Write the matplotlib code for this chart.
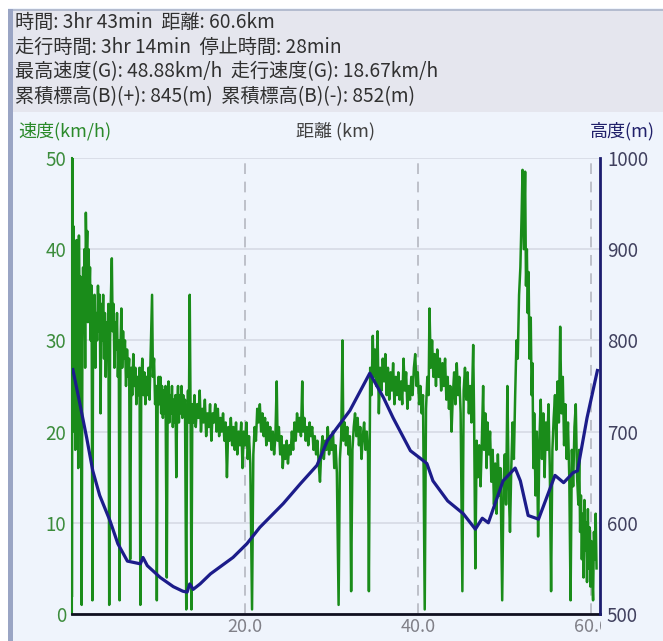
import matplotlib.pyplot as plt
from matplotlib.patches import Rectangle
from matplotlib.transforms import Bbox, TransformedBbox

# speed track (km, km/h)
speed_km = [
    0.00, 0.04, 0.10, 0.18, 0.26, 0.32, 0.38, 0.44, 0.52, 0.58,
    0.66, 0.72, 0.80, 0.88, 0.96, 1.04, 1.12, 1.20, 1.28, 1.36,
    1.44, 1.52, 1.60, 1.68, 1.76, 1.84, 1.92, 2.00, 2.08, 2.16,
    2.26, 2.36, 2.44, 2.52, 2.60, 2.70, 2.80, 2.90, 3.00, 3.10,
    3.20, 3.30, 3.40, 3.50, 3.60, 3.70, 3.80, 3.90, 4.00, 4.10,
    4.20, 4.30, 4.40, 4.50, 4.60, 4.70, 4.80, 4.90, 5.00, 5.10,
    5.20, 5.30, 5.40, 5.50, 5.60, 5.70, 5.80, 5.90, 6.00, 6.12,
    6.24, 6.36, 6.48, 6.60, 6.72, 6.84, 6.96, 7.08, 7.20, 7.32,
    7.44, 7.56, 7.68, 7.80, 7.90, 8.00, 8.12, 8.24, 8.36, 8.48,
    8.60, 8.72, 8.84, 8.96, 9.10, 9.25, 9.35, 9.48, 9.60, 9.72,
    9.80, 9.90, 10.0, 10.1, 10.2, 10.3, 10.4, 10.5, 10.6, 10.7,
    10.8, 10.95, 11.05, 11.15, 11.25, 11.35, 11.45, 11.55, 11.65, 11.75,
    11.85, 11.95, 12.05, 12.15, 12.25, 12.35, 12.45, 12.55, 12.65, 12.75,
    12.85, 12.95, 13.05, 13.2, 13.3, 13.4, 13.5, 13.6, 13.7, 13.8,
    13.9, 14.0, 14.15, 14.3, 14.45, 14.6, 14.75, 14.9, 15.05, 15.2,
    15.35, 15.5, 15.65, 15.8, 15.95, 16.1, 16.25, 16.4, 16.55, 16.7,
    16.85, 17.0, 17.15, 17.3, 17.45, 17.6, 17.75, 17.9, 18.05, 18.2,
    18.35, 18.5, 18.65, 18.8, 18.95, 19.1, 19.25, 19.4, 19.55, 19.7,
    19.85, 20.0, 20.15, 20.3, 20.45, 20.6, 20.8, 20.95, 21.1, 21.25,
    21.4, 21.55, 21.7, 21.85, 22.0, 22.15, 22.3, 22.45, 22.6, 22.75,
    22.9, 23.05, 23.2, 23.35, 23.5, 23.65, 23.75, 23.9, 24.05, 24.2,
    24.35, 24.5, 24.65, 24.8, 24.95, 25.1, 25.25, 25.4, 25.55, 25.7,
    25.85, 26.0, 26.15, 26.3, 26.45, 26.6, 26.7, 26.85, 27.0, 27.15,
    27.3, 27.45, 27.6, 27.75, 27.9, 28.05, 28.2, 28.35, 28.5, 28.65,
    28.8, 28.95, 29.1, 29.25, 29.4, 29.55, 29.7, 29.85, 30.0, 30.15,
    30.3, 30.45, 30.6, 30.8, 30.95, 31.1, 31.25, 31.35, 31.5, 31.65,
    31.8, 31.95, 32.1, 32.25, 32.4, 32.55, 32.7, 32.85, 33.0, 33.15,
    33.3, 33.45, 33.6, 33.75, 33.9, 34.05, 34.2, 34.3, 34.45, 34.6,
    34.75, 34.85, 35.0, 35.15, 35.3, 35.45, 35.6, 35.75, 35.9, 36.05,
    36.2, 36.35, 36.5, 36.65, 36.8, 36.95, 37.1, 37.25, 37.4, 37.55,
    37.7, 37.85, 38.0, 38.15, 38.3, 38.45, 38.6, 38.75, 38.9, 39.05,
    39.2, 39.35, 39.5, 39.65, 39.8, 39.95, 40.1, 40.25, 40.4, 40.55,
    40.75, 40.9, 41.05, 41.2, 41.3, 41.45, 41.6, 41.75, 41.9, 42.05,
    42.2, 42.35, 42.5, 42.65, 42.8, 42.95, 43.1, 43.25, 43.4, 43.55,
    43.7, 43.85, 44.0, 44.15, 44.3, 44.45, 44.6, 44.75, 44.9, 45.1,
    45.25, 45.4, 45.55, 45.7, 45.85, 46.0, 46.15, 46.35, 46.45, 46.6,
    46.75, 46.9, 47.05, 47.2, 47.35, 47.5, 47.6, 47.75, 47.9, 48.0,
    48.15, 48.3, 48.45, 48.6, 48.75, 48.9, 49.05, 49.2, 49.35, 49.5,
    49.7, 49.85, 50.0, 50.15, 50.3, 50.45, 50.6, 50.75, 50.9, 51.05,
    51.2, 51.35, 51.5, 51.65, 51.8, 51.95, 52.05, 52.2, 52.35, 52.45,
    52.55, 52.65, 52.75, 52.85, 53.0, 53.1, 53.2, 53.3, 53.4, 53.55,
    53.7, 53.85, 54.0, 54.15, 54.3, 54.45, 54.6, 54.75, 54.9, 55.05,
    55.2, 55.35, 55.5, 55.65, 55.8, 55.95, 56.1, 56.25, 56.4, 56.55,
    56.7, 56.85, 57.0, 57.15, 57.3, 57.45, 57.6, 57.75, 57.9, 58.05,
    58.2, 58.35, 58.5, 58.6, 58.7, 58.8, 58.9, 59.0, 59.1, 59.2,
    59.3, 59.4, 59.5, 59.6, 59.7, 59.8, 59.9, 60.0, 60.1, 60.2,
    60.3, 60.4, 60.5, 60.6,
]
speed_kmh = [
    2, 50, 20, 42.5, 30, 38, 18, 36, 41, 27,
    34, 16, 41.5, 31, 37, 28, 1, 30, 38, 33,
    40, 27, 44, 39, 42, 32, 40, 35, 38, 30,
    36, 1.5, 34, 29, 35, 27, 33, 30, 36, 31,
    35, 22, 34, 30, 35, 28, 33, 26, 32, 29,
    34, 1, 30, 35, 39, 31, 34, 27, 32, 29,
    33, 26, 30, 1.5, 29, 33.5, 27, 31, 28, 30,
    25, 29, 26, 28, 6, 27, 24, 28.5, 25, 27,
    23, 26, 24, 27, 1, 25, 28, 24, 26.5, 23,
    26, 24, 27, 23.5, 29, 35, 26, 28, 23, 25,
    1.5, 24, 26, 23, 26, 22, 25, 21.5, 24.5, 22,
    25, 4, 23, 25.5, 21, 24, 22, 25, 20.5, 23.5,
    21, 24, 15, 23, 25, 21, 24, 22, 25, 21.5,
    24, 22, 23.5, 0.5, 22, 24.5, 21, 35, 22, 0.5,
    23, 21, 24, 20.5, 23, 21.5, 24.5, 20, 22.5, 21,
    23.5, 19.5, 22, 20.5, 23, 19, 22, 21, 23, 20,
    22.5, 19.5, 21.5, 20, 22, 19, 21, 15, 20.5, 19,
    21.5, 18.5, 20.5, 18, 21, 17.5, 20, 18.5, 21, 16,
    20, 18.5, 21, 17, 19.5, 16.5, 0.5, 17.5, 20.5, 19,
    22.5, 21, 23, 20, 22, 19.5, 21.5, 18.5, 21, 19,
    20.5, 18, 20, 17.5, 19.5, 25.5, 19, 20.5, 17.5, 19.5,
    16, 18.5, 17, 19, 16.5, 18.5, 17.5, 20, 18, 21,
    19, 22, 20, 21.5, 19.5, 25.5, 20, 21.5, 19, 20.5,
    18.5, 21, 19.5, 20.5, 18, 19.5, 17.5, 19, 16.5, 14.5,
    18, 19.5, 17, 19, 18, 20.5, 17.5, 19.5, 18, 20,
    16, 18.5, 15.5, 1, 17, 19.5, 30, 19, 21, 18.5,
    20.5, 17.5, 19.5, 2.5, 18, 20.5, 22, 19.5, 21.5, 18.5,
    20.5, 17, 19.5, 21, 18, 20, 17.5, 2.5, 27, 24,
    30.5, 26, 29, 25, 31, 22, 27, 24.5, 28, 25.5,
    28.5, 24, 27, 23.5, 26.5, 24.5, 27.5, 23, 26, 24,
    26.5, 23.5, 25.5, 23, 28, 24.5, 26.5, 22.5, 25, 23.5,
    26, 24, 27, 28.5, 25, 26.5, 23, 25, 22, 24,
    0.5, 22.5, 26, 24, 33.5, 27, 30, 26, 28.5, 25,
    29, 26, 28, 24.5, 27.5, 25, 28, 23.5, 26, 22.5,
    25, 20, 24, 26.5, 23, 27.5, 24, 26, 22, 2.5,
    24.5, 27, 23.5, 26.5, 22, 25, 21, 29.5, 22, 5,
    19, 15, 18.5, 14, 19, 25, 18, 22, 16, 21,
    17.5, 20, 14.5, 18, 12, 16.5, 11, 17.5, 13, 16,
    1.5, 14, 17.5, 12, 25, 14, 9, 16, 21, 17,
    24, 30, 28, 35, 38, 44, 48.7, 40, 48.5, 36,
    40, 33, 37.5, 28, 32.5, 24, 27.5, 16, 22, 13,
    20, 8.5, 19, 23.5, 17, 22, 15, 21, 18, 23,
    16, 2.5, 18, 21.5, 24, 18, 25.5, 21, 31.5, 22,
    26, 18.5, 23, 17, 21, 15, 1.5, 18, 14, 20.5,
    23, 15, 12, 18, 9, 13, 6, 11, 4, 12.5,
    7, 10, 3.5, 11.5, 5, 9.5, 3, 8, 4.5, 1.5,
    9, 6, 11, 5,
]

# altitude track (km, m)
elev_km = [0.1, 0.9, 1.7, 2.4, 3.2, 4.4, 5.3, 6.4, 7.9, 8.2,
           8.7, 10.2, 11.7, 12.8, 13.3, 13.6, 14.0, 14.8, 16.0, 18.6,
           20.2, 21.7, 24.4, 26.4, 28.3, 29.5, 32.1, 34.4, 36.0, 37.1,
           39.1, 40.2, 41.0, 41.7, 43.4, 45.2, 46.6, 47.4, 48.1, 49.8,
           51.2, 51.8, 52.7, 53.9, 55.8, 56.8, 57.9, 58.4, 59.5, 60.7]
elev_m = [768, 731, 693, 657, 630, 602, 577, 558, 555, 562,
          553, 540, 530, 525, 524, 533, 527, 533, 544, 562,
          577, 595, 621, 643, 663, 690, 723, 764, 737, 715,
          679, 671, 665, 646, 624, 610, 593, 605, 600, 646,
          660, 646, 608, 604, 652, 644, 655, 657, 715, 767]

summary = [
    "時間: 3hr 43min  距離: 60.6km",
    "走行時間: 3hr 14min  停止時間: 28min",
    "最高速度(G): 48.88km/h  走行速度(G): 18.67km/h",
    "累積標高(B)(+): 845(m)  累積標高(B)(-): 852(m)",
]
speed_ticks = [0, 10, 20, 30, 40, 50]
elev_ticks = [500, 600, 700, 800, 900, 1000]
dist_ticks = [20, 40, 60]
dist_labels = ["20.0", "40.0", "60.0"]

plt.rcParams['font.family'] = ['Noto Sans CJK JP', 'DejaVu Sans']

W, H = 663, 641
fig = plt.figure(figsize=(W / 100, H / 100), dpi=100)
fig.patch.set_facecolor('#eff4fc')


def fx(px):
    return px / W


def fy(py):
    return 1 - py / H


# window frame bits: white margin, header box, left bar
fig.add_artist(Rectangle((0, 0), fx(8), 1, transform=fig.transFigure,
                         facecolor='white', edgecolor='none'))
fig.add_artist(Rectangle((0, fy(8)), 1, 8 / H, transform=fig.transFigure,
                         facecolor='white', edgecolor='none'))
fig.add_artist(Rectangle((fx(13), fy(112)), 1, 103 / H, transform=fig.transFigure,
                         facecolor='#e5e6ee', edgecolor='none'))
fig.add_artist(Rectangle((fx(13), fy(11)), 1, 2 / H, transform=fig.transFigure,
                         facecolor='#b4bccf', edgecolor='none'))
fig.add_artist(Rectangle((fx(8), 0), 5 / W, fy(9), transform=fig.transFigure,
                         facecolor='#9aa5c4', edgecolor='none'))

for i, line in enumerate(summary):
    fig.text(fx(15), fy(22 + 25 * i), line, fontsize=13.8, color='#303030', va='center')

ax = fig.add_axes([fx(72), fy(614), (600 - 72) / W, (614 - 158) / H])
ax.set_facecolor('none')
ax.plot(speed_km, speed_kmh, color='#1a8c1a', lw=1.8)
ax.set_xlim(0, 61.0)
ax.set_ylim(0, 50)
ax.set_yticks(speed_ticks)
ax.set_xticks(dist_ticks)
ax.set_xticklabels(dist_labels)
ax.grid(axis='y', color='#d6dae4', lw=1.2)
for d in dist_ticks:
    ax.axvline(d, color='#b0b2bc', lw=1.1, ls=(0, (7, 5)), zorder=0.5)
ax.tick_params(axis='y', length=0, pad=4, labelsize=13.5, labelcolor='#3c8c3c')
ax.tick_params(axis='x', length=0, pad=3, labelsize=13, labelcolor='#808088')
ax.spines['top'].set_visible(False)
ax.spines['right'].set_visible(False)
ax.spines['left'].set_color('#1a8c1a')
ax.spines['left'].set_linewidth(1.5)
ax.spines['bottom'].set_color('#101020')
ax.spines['bottom'].set_linewidth(2)

# the last distance label is cut by the right-hand scale column
clip = TransformedBbox(Bbox.from_extents(0, 0, fx(601), 1), fig.transFigure)
for lbl in ax.get_xticklabels():
    lbl.set_clip_box(clip)
    lbl.set_clip_on(True)

ax2 = ax.twinx()
ax2.plot(elev_km, elev_m, color='#1c1c8a', lw=2.3)
ax2.set_ylim(500, 1000)
ax2.set_yticks(elev_ticks)
ax2.tick_params(axis='y', length=0, pad=5, labelsize=13.5, labelcolor='#40405e')
for s in ['top', 'left', 'bottom']:
    ax2.spines[s].set_visible(False)
ax2.spines['right'].set_color('#1c1c6e')
ax2.spines['right'].set_linewidth(2)

fig.text(fx(18), fy(131), "速度(km/h)", fontsize=13, color='#2a8a2a', va='center')
fig.text(fx(336), fy(131), "距離 (km)", fontsize=13, color='#404040', va='center', ha='center')
fig.text(fx(655), fy(131), "高度(m)", fontsize=13, color='#20206a', va='center', ha='right')

fig.savefig('out.png', dpi=100, facecolor=fig.get_facecolor())
